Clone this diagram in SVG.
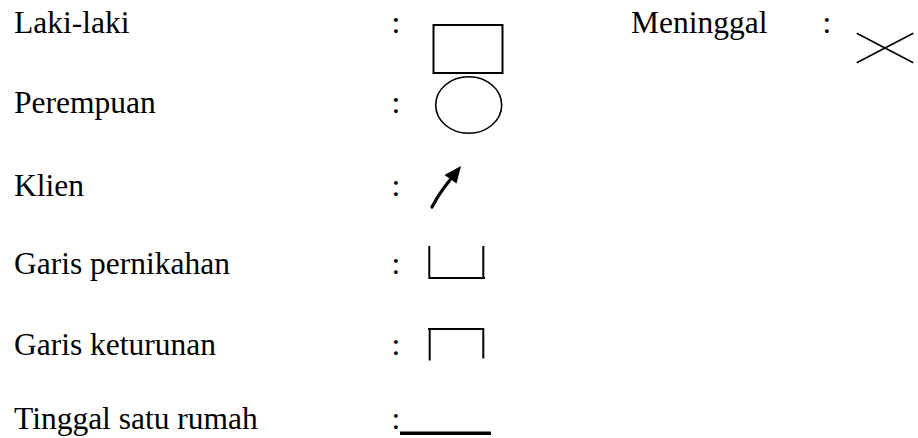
<svg xmlns="http://www.w3.org/2000/svg" width="918" height="438" viewBox="0 0 918 438">
<style>
text{font-family:"Liberation Serif","Times New Roman",serif;font-size:31.5px;fill:#000}
.s{fill:none;stroke:#000;stroke-width:2}
.t{fill:none;stroke:#000;stroke-width:1.6}
</style>
<rect width="918" height="438" fill="#fff"/>
<g id="laki">
<text x="14" y="33">Laki-laki</text>
<text x="391.5" y="33">:</text>
<rect class="s" x="433.5" y="25" width="69" height="48"/>
</g>
<g id="perempuan">
<text x="14" y="113">Perempuan</text>
<text x="391.5" y="113">:</text>
<ellipse class="t" cx="468.7" cy="105" rx="33" ry="28.3"/>
</g>
<g id="klien">
<text x="14" y="196">Klien</text>
<text x="391.5" y="196">:</text>
<path d="M432 207 Q440 192 450 180" fill="none" stroke="#000" stroke-width="3.2" stroke-linecap="round"/>
<polygon points="461,166 456.5,183.5 444.5,175" fill="#000"/>
</g>
<g id="pernikahan">
<text x="14" y="274">Garis pernikahan</text>
<text x="391.5" y="274">:</text>
<path class="s" d="M429.3 246 V278 H485 M483.3 246 V278"/>
</g>
<g id="keturunan">
<text x="14" y="355">Garis keturunan</text>
<text x="391.5" y="355">:</text>
<path class="s" d="M428 329 H484.3 M429.7 329 V360.5 M483.3 329 V358.5"/>
</g>
<g id="tinggal">
<text x="14" y="429">Tinggal satu rumah</text>
<text x="391.5" y="429">:</text>
<rect x="400" y="431.5" width="91" height="3.5" fill="#000"/>
</g>
<g id="meninggal">
<text x="631" y="33">Meninggal</text>
<text x="822.5" y="33">:</text>
<path class="t" d="M856.7 33.3 L913.3 62.7 M856.7 62.7 L913.3 33.3"/>
</g>
</svg>
